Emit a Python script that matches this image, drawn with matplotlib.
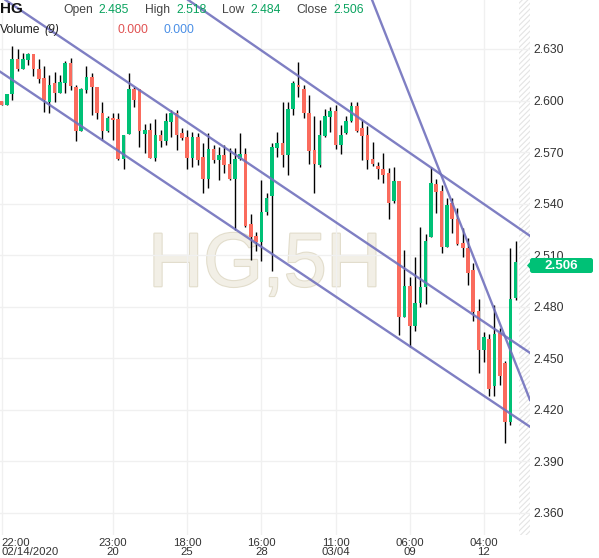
import numpy as np
import matplotlib.pyplot as plt
from matplotlib import patheffects
from matplotlib.patches import FancyBboxPatch, Polygon

plt.rcParams['font.family'] = ['Liberation Sans', 'DejaVu Sans']
plt.rcParams['hatch.linewidth'] = 0.8

# 5H candles, HG copper
opens = [2.6000, 2.5975, 2.6037, 2.6242, 2.6186, 2.6236, 2.6271, 2.6186, 2.6130, 2.5994,
         2.6104, 2.6046, 2.6104, 2.6221, 2.6081, 2.5825, 2.6062, 2.6139, 2.6081, 2.5930,
         2.5825, 2.5901, 2.5891, 2.5658, 2.5806, 2.6066, 2.6066, 2.5806, 2.5829, 2.5668,
         2.5800, 2.5765, 2.5877, 2.5926, 2.5810, 2.5790, 2.5668, 2.5786, 2.5670, 2.5541,
         2.5716, 2.5654, 2.5683, 2.5631, 2.5543, 2.5660, 2.5689, 2.5282, 2.5212, 2.5179,
         2.5353, 2.5444, 2.5726, 2.5751, 2.5683, 2.5949, 2.6091, 2.6065, 2.5929, 2.5712,
         2.5625, 2.5794, 2.5906, 2.5939, 2.5741, 2.5809, 2.5881, 2.5968, 2.5838, 2.5800,
         2.5660, 2.5619, 2.5602, 2.5576, 2.5417, 2.5533, 2.4742, 2.4922, 2.4689, 2.4819,
         2.4916, 2.5207, 2.5514, 2.5475, 2.5149, 2.5401, 2.5310, 2.5172, 2.5144, 2.5014,
         2.4775, 2.4548, 2.4612, 2.4340, 2.4649, 2.4470, 2.4131, 2.4850]
highs = [2.6000, 2.6040, 2.6318, 2.6298, 2.6275, 2.6275, 2.6271, 2.6240, 2.6198, 2.6149,
         2.6165, 2.6149, 2.6231, 2.6246, 2.6091, 2.6071, 2.6198, 2.6159, 2.6081, 2.5994,
         2.5907, 2.5926, 2.5930, 2.5800, 2.6163, 2.6081, 2.6066, 2.5864, 2.5868, 2.5891,
         2.5829, 2.5930, 2.5945, 2.5945, 2.5839, 2.5829, 2.5819, 2.5810, 2.5751, 2.5809,
         2.5741, 2.5732, 2.5741, 2.5722, 2.5722, 2.5809, 2.5722, 2.5338, 2.5237, 2.5538,
         2.5460, 2.5751, 2.5819, 2.5994, 2.5994, 2.6116, 2.6226, 2.6091, 2.6032, 2.5910,
         2.5887, 2.5949, 2.5964, 2.5974, 2.5858, 2.5910, 2.5990, 2.5990, 2.5887, 2.5852,
         2.5757, 2.5644, 2.5697, 2.5606, 2.5615, 2.5533, 2.5130, 2.4975, 2.5091, 2.5266,
         2.5221, 2.5615, 2.5541, 2.5508, 2.5431, 2.5431, 2.5372, 2.5256, 2.5198, 2.5052,
         2.4843, 2.4655, 2.4639, 2.4810, 2.4674, 2.4486, 2.5140, 2.5180]
lows = [2.5975, 2.5975, 2.6004, 2.6174, 2.6186, 2.6207, 2.6145, 2.6101, 2.5936, 2.5926,
        2.5994, 2.6042, 2.6042, 2.6062, 2.5767, 2.5825, 2.6042, 2.5916, 2.5891, 2.5771,
        2.5819, 2.5771, 2.5654, 2.5600, 2.5806, 2.5965, 2.5728, 2.5697, 2.5664, 2.5650,
        2.5728, 2.5741, 2.5790, 2.5712, 2.5771, 2.5600, 2.5615, 2.5625, 2.5460, 2.5489,
        2.5635, 2.5538, 2.5576, 2.5538, 2.5247, 2.5654, 2.5262, 2.5072, 2.5126, 2.5068,
        2.5334, 2.5010, 2.5673, 2.5615, 2.5567, 2.5916, 2.6019, 2.5897, 2.5631, 2.5460,
        2.5615, 2.5786, 2.5819, 2.5716, 2.5687, 2.5805, 2.5877, 2.5819, 2.5654, 2.5600,
        2.5619, 2.5541, 2.5518, 2.5309, 2.5406, 2.4635, 2.4742, 2.4567, 2.4660, 2.4800,
        2.4814, 2.5207, 2.5347, 2.5110, 2.5149, 2.5231, 2.5159, 2.5091, 2.4926, 2.4719,
        2.4412, 2.4480, 2.4280, 2.4280, 2.4344, 2.4005, 2.4112, 2.4840]
closes = [2.5975, 2.6040, 2.6242, 2.6184, 2.6242, 2.6271, 2.6184, 2.6126, 2.6004, 2.6091,
          2.6046, 2.6110, 2.6221, 2.6087, 2.5825, 2.6066, 2.6139, 2.6077, 2.5926, 2.5825,
          2.5897, 2.5887, 2.5658, 2.5800, 2.6066, 2.6004, 2.5825, 2.5829, 2.5668, 2.5800,
          2.5765, 2.5883, 2.5926, 2.5800, 2.5780, 2.5668, 2.5786, 2.5654, 2.5541, 2.5716,
          2.5654, 2.5683, 2.5625, 2.5543, 2.5660, 2.5689, 2.5272, 2.5208, 2.5179, 2.5349,
          2.5431, 2.5728, 2.5751, 2.5683, 2.5951, 2.6104, 2.6077, 2.5926, 2.5708, 2.5629,
          2.5800, 2.5910, 2.5939, 2.5741, 2.5800, 2.5881, 2.5968, 2.5825, 2.5796, 2.5654,
          2.5629, 2.5600, 2.5567, 2.5406, 2.5532, 2.4742, 2.4922, 2.4689, 2.4819, 2.4916,
          2.5182, 2.5522, 2.5469, 2.5149, 2.5392, 2.5308, 2.5165, 2.5140, 2.4998, 2.4771,
          2.4548, 2.4622, 2.4321, 2.4641, 2.4397, 2.4131, 2.4845, 2.5060]

tick_pos = [0, 21, 35, 49, 63, 77, 91]
tick_labels = ['22:00\n02/14/2020', '23:00\n20', '18:00\n25', '16:00\n28',
               '11:00\n03/04', '06:00\n09', '04:00\n12']
price_ticks = [2.360, 2.390, 2.420, 2.450, 2.480, 2.510, 2.540, 2.570, 2.600, 2.630]

# drawn trend lines: two anchor points each (bar index, price)
trend_lines = [
    [(51.6, 2.6236), (99.7, 2.5212)],
    [(9.1, 2.6411), (99.7, 2.4531)],
    [(-0.32, 2.6168), (99.7, 2.4101)],
    [(69.9, 2.6585), (99.7, 2.4257)],
]

GREEN = '#00c176'
RED = '#fa6b5d'
xmin, xmax = -0.32, 99.7
ymin, ymax = 2.3471, 2.6585

W, H = 599, 558
fig = plt.figure(figsize=(W / 100, H / 100), dpi=100)
ax_box = [0, 23 / H, 530 / W, 535 / H]
ax = fig.add_axes(ax_box)

def fx(px):
    return px / W

def fy(py):
    return 1 - py / H

o = np.array(opens)
c = np.array(closes)
x = np.arange(len(o))
up = c >= o
cols = np.where(up, GREEN, RED)

ax.vlines(x, lows, highs, color='black', lw=1.0, zorder=2)
body = np.maximum(np.abs(c - o), 0.0006)
ax.bar(x, body, bottom=np.minimum(o, c), width=0.68, color=cols, zorder=3)

for p1, p2 in trend_lines:
    ax.axline(p1, p2, color='#7171bd', lw=1.7, alpha=0.9, zorder=4)

# watermark
ax.text(0.5, 0.465, 'HG,5H', transform=ax.transAxes, ha='center', va='baseline',
        fontsize=55, color='#f2efe6', zorder=0.1,
        path_effects=[patheffects.withStroke(linewidth=1.6, foreground='#e2ddcc')])

# no-data hatched strip at the right
ax.axvspan(97.6, xmax, facecolor='none', edgecolor='#e4e4e4', hatch='//////', lw=0, zorder=0.2)

ax.set_xlim(xmin, xmax)
ax.set_ylim(ymin, ymax)
ax.set_axisbelow(True)
ax.grid(color='#f0f0f0', lw=1)
for s in ax.spines.values():
    s.set_visible(False)

ax.set_xticks(tick_pos)
ax.set_xticklabels(tick_labels, linespacing=0.95)
ax.yaxis.tick_right()
ax.set_yticks(price_ticks)
ax.set_yticklabels([f'{v:.3f}' for v in price_ticks])
ax.tick_params(axis='x', length=0, pad=2, labelsize=8.2, labelcolor='#333333')
ax.tick_params(axis='y', length=0, pad=2.5, labelsize=8.7, labelcolor='#333333')
ax.get_xticklabels()[0].set_ha('left')

# last price tag (sits a few pixels below the price level, as in the source)
last = closes[-1]
frac = (last - ymin) / (ymax - ymin)
yc = ax_box[1] + frac * ax_box[3] - 3.5 / H
tag = FancyBboxPatch((fx(530), yc - 7.5 / H), 63 / W, 15 / H,
                     boxstyle='round,pad=0,rounding_size=0.004', mutation_aspect=W / H,
                     transform=fig.transFigure, fc=GREEN, ec='none', zorder=5)
fig.add_artist(tag)
fig.add_artist(Polygon([(fx(527), yc), (fx(530.5), yc + 4 / H), (fx(530.5), yc - 4 / H)],
                       closed=True, transform=fig.transFigure, fc=GREEN, ec='none', zorder=5))
fig.text(fx(561.5), yc, f'{last:.3f}', ha='center', va='center', color='white',
         fontsize=9.6, fontweight='bold', zorder=6)

# header
fig.text(fx(0), fy(9), 'HG', fontsize=11, fontweight='bold', color='#111111', va='center')
hdr_green = '#0aa35f'
items = [('Open', 63, opens[-1], 98), ('High', 145, highs[-1], 176),
         ('Low', 222, lows[-1], 250), ('Close', 296, closes[-1], 333)]
for name, xl, val, xv in items:
    fig.text(fx(xl), fy(10), name, fontsize=8.7, color='#444444', va='center')
    fig.text(fx(xv), fy(10), f'{val:.3f}', fontsize=8.7, color=hdr_green, va='center')
fig.text(fx(0), fy(30), 'Volume', fontsize=8.7, color='#222222', va='center')
fig.text(fx(44), fy(30), '(9)', fontsize=8.7, color='#222222', va='center', style='italic')
fig.text(fx(118), fy(30), '0.000', fontsize=8.7, color='#e05252', va='center')
fig.text(fx(163), fy(30), '0.000', fontsize=8.7, color='#4a8fe6', va='center')

fig.savefig('out.png', dpi=100)
